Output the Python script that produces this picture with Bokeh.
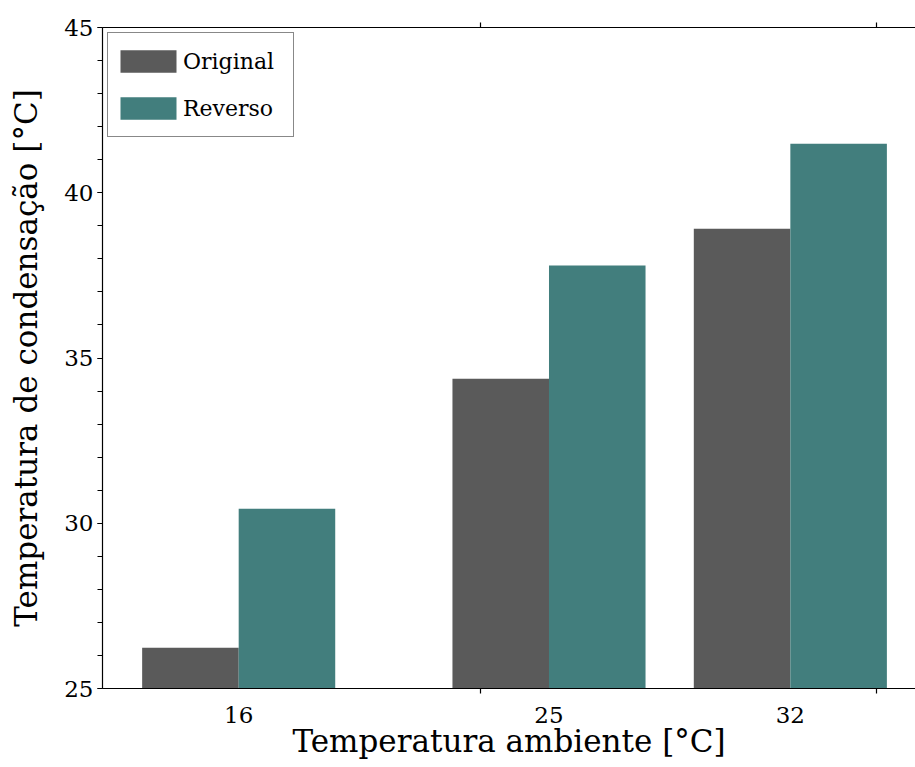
from bokeh.plotting import figure
from bokeh.models import FixedTicker, SingleIntervalTicker, LinearAxis, Range1d
from bokeh.embed import file_html
from bokeh.resources import INLINE

# ---- data ----
temps = [16, 25, 32]                    # ambient temperature [°C]
tick_labels = ["16", "25", "32"]
original = [26.23, 34.37, 38.91]        # condensation temperature, original
reverso = [30.44, 37.80, 41.48]         # condensation temperature, reversed
extra_ticks = [23, 34.5]                # tick marks drawn on the x spines
series_names = ["Original", "Reverso"]

# ---- style ----
FONT = "DejaVu Serif"
C_ORIG = "#5a5a5a"
C_REV = "#427e7d"
BAR_W = 2.8

x_orig = [t - BAR_W / 2 for t in temps]
x_rev = [t + BAR_W / 2 for t in temps]

p = figure(width=915, height=767, output_backend="svg", toolbar_location=None,
           x_range=Range1d(12.05, 35.63), y_range=Range1d(25, 45),
           min_border_left=102, min_border_right=0, min_border_top=27,
           min_border_bottom=79)
p.outline_line_color = None
p.grid.visible = False
p.background_fill_color = "white"
p.border_fill_color = "white"

p.vbar(x=x_orig, top=original, bottom=0, width=BAR_W, fill_color=C_ORIG,
       line_color=None, legend_label=series_names[0])
p.vbar(x=x_rev, top=reverso, bottom=0, width=BAR_W, fill_color=C_REV,
       line_color=None, legend_label=series_names[1])

# bottom axis
xa = p.xaxis[0]
xa.ticker = FixedTicker(ticks=temps, minor_ticks=extra_ticks)
xa.major_label_overrides = {t: l for t, l in zip(temps, tick_labels)}
xa.major_tick_out = 5
xa.major_tick_in = 0
xa.minor_tick_out = 5
xa.minor_tick_in = 0
xa.minor_tick_line_color = "black"
xa.major_label_standoff = 13
xa.axis_label = "Temperatura ambiente [°C]"
xa.axis_label_standoff = -3

# left axis
ya = p.yaxis[0]
ya.ticker = SingleIntervalTicker(interval=5, num_minor_ticks=5)
ya.major_tick_out = 5
ya.major_tick_in = 0
ya.minor_tick_out = 5
ya.minor_tick_in = 0
ya.major_label_standoff = 4
ya.axis_label = "Temperatura de condensação [°C]"
ya.axis_label_standoff = 17

for ax in (xa, ya):
    ax.axis_line_color = "black"
    ax.axis_line_width = 1.2
    ax.major_tick_line_color = None if ax is xa else "black"
    ax.major_tick_line_width = 1.2
    ax.minor_tick_line_width = 1.2
    ax.major_label_text_font = FONT
    ax.major_label_text_font_size = "23px"
    ax.major_label_text_color = "black"
    ax.axis_label_text_font = FONT
    ax.axis_label_text_font_size = "31px"
    ax.axis_label_text_font_style = "normal"
    ax.axis_label_text_color = "black"

# top spine with tick marks
top = LinearAxis(ticker=FixedTicker(ticks=[], minor_ticks=extra_ticks))
top.axis_line_color = "black"
top.axis_line_width = 1.2
top.major_tick_line_color = None
top.minor_tick_out = 5
top.minor_tick_in = 0
top.minor_tick_line_width = 1.2
top.major_label_text_font_size = "1px"
top.major_label_standoff = 0
p.add_layout(top, "above")

# legend
lg = p.legend[0]
lg.location = "top_left"
lg.margin = 5
lg.padding = 5
lg.spacing = 1
lg.glyph_width = 70
lg.glyph_height = 28
lg.label_height = 46
lg.label_width = 105
lg.label_standoff = 0
lg.label_text_font = FONT
lg.label_text_font_size = "22px"
lg.label_text_color = "black"
lg.border_line_color = "#111111"
lg.border_line_width = 1.5
lg.background_fill_alpha = 1.0

open("out.html", "w").write(file_html(p, INLINE))
